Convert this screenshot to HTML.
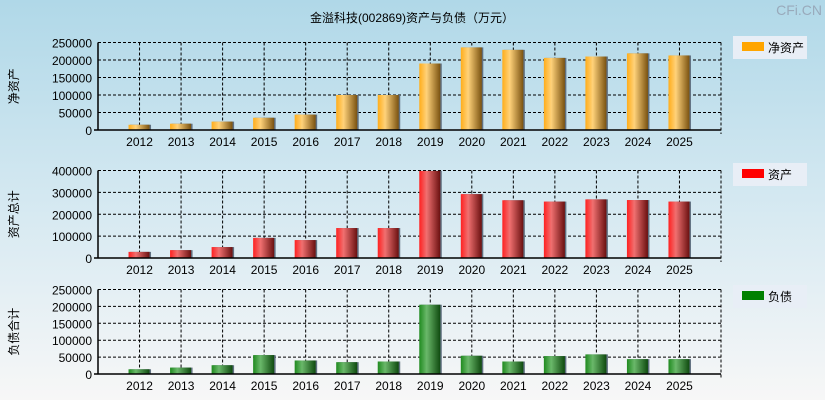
<!DOCTYPE html>
<html><head><meta charset="utf-8"><style>
body{margin:0;width:825px;height:400px;overflow:hidden;background:linear-gradient(#b0d8e8,#d8eaf2 55%,#f7f7f7);font-family:"Liberation Sans","Noto Sans CJK SC",sans-serif}
</style></head><body>
<svg id="c" width="825" height="400" style="position:absolute;left:0;top:0">
<defs>
<linearGradient id="g0" x1="0" x2="1"><stop offset="0" stop-color="#ffad1a"/><stop offset="0.35" stop-color="#ffd27a"/><stop offset="1" stop-color="#7a5210"/></linearGradient>
<linearGradient id="g1" x1="0" x2="1"><stop offset="0" stop-color="#ff2020"/><stop offset="0.35" stop-color="#f07070"/><stop offset="1" stop-color="#6a1010"/></linearGradient>
<linearGradient id="g2" x1="0" x2="1"><stop offset="0" stop-color="#1f8a1f"/><stop offset="0.35" stop-color="#6ab86a"/><stop offset="1" stop-color="#0f4a0f"/></linearGradient>
</defs>
<text x="412" y="22" font-size="12" text-anchor="middle">金溢科技(002869)资产与负债（万元）</text>
</svg>
<script>
const years=["2012","2013","2014","2015","2016","2017","2018","2019","2020","2021","2022","2023","2024","2025"];
const netAssets=[15000,18000,24000,35000,44000,100000,100000,190000,236000,229000,206000,210000,219000,213000];
const totalAssets=[28000,36000,50000,92000,82000,137000,137000,398000,292000,264000,258000,268000,265000,258000];
const liabilities=[14000,19000,26000,56000,40000,35000,37000,205000,54000,37000,53000,58000,44000,44000];
const ticks0=[0,50000,100000,150000,200000,250000];
const ticks1=[0,100000,200000,300000,400000];
const ticks2=[0,50000,100000,150000,200000,250000];
const svg=document.getElementById('c');
const NS='http://www.w3.org/2000/svg';
function mk(t,a){const e=document.createElementNS(NS,t);for(const k in a)e.setAttribute(k,a[k]);svg.appendChild(e);return e;}
const X0=98,X1=721;const slot=(X1-X0)/15;
function xc(i){return X0+slot*(i+1);}
const panels=[
 {vals:netAssets,ticks:ticks0,top:42.5,bot:130,grad:'g0',col:'#ffa500',name:'净资产',ylab:'净资产',key:'net-assets',ly:36},
 {vals:totalAssets,ticks:ticks1,top:170.5,bot:258,grad:'g1',col:'#ff0000',name:'资产',ylab:'资产总计',key:'total-assets',ly:163},
 {vals:liabilities,ticks:ticks2,top:289.5,bot:374,grad:'g2',col:'#008000',name:'负债',ylab:'负债合计',key:'liabilities',ly:285}];
panels.forEach(p=>{
 const max=p.ticks[p.ticks.length-1];
 const y=v=>p.bot-(v/max)*(p.bot-p.top);
 p.ticks.forEach(t=>{
  if(t>0){const l=mk('line',{x1:X0,x2:X1,y1:y(t),y2:y(t),stroke:'#000','stroke-dasharray':'3,2','stroke-width':1});
  
  }
  const tx=mk('text',{x:X0-6,y:y(t)+5,'font-size':12,'text-anchor':'end'});tx.textContent=t;
  
  
 });
 years.forEach((yr,i)=>{
  const gl=mk('line',{x1:xc(i),x2:xc(i),y1:p.top,y2:p.bot,stroke:'#000','stroke-dasharray':'3,2'});
  
  
 });
 mk('line',{x1:X1,x2:X1,y1:p.top,y2:p.bot+4,stroke:'#000','stroke-dasharray':'3,2'});
 mk('line',{x1:X0,x2:X1,y1:p.top,y2:p.top,stroke:'#000','stroke-dasharray':'3,2'});
 years.forEach((yr,i)=>{
  const v=p.vals[i];
  const sh=mk('rect',{x:xc(i)-11+1.5,y:y(v),width:21,height:p.bot-y(v),fill:'#607080'});
  
  
  const b=mk('rect',{x:xc(i)-11,y:y(v),width:21,height:p.bot-y(v),fill:'url(#'+p.grad+')'});
  
  
  const t=mk('text',{x:xc(i),y:p.bot+16,'font-size':12,'text-anchor':'middle'});t.textContent=yr;
  
  
 });
 mk('line',{x1:X0,x2:X0,y1:p.top,y2:p.bot,stroke:'#000','stroke-width':1.5});
 mk('line',{x1:X0-4,x2:X1,y1:p.bot,y2:p.bot,stroke:'#000','stroke-width':1.5});
 const yl=mk('text',{x:0,y:0,'font-size':12,'text-anchor':'middle',transform:'translate(18,'+((p.top+p.bot)/2)+') rotate(-90)'});yl.textContent=p.ylab;
 
 
 const lb=mk('rect',{x:733,y:p.ly,width:74,height:23,fill:'#e8eef6'});
 
 
 mk('rect',{x:742,y:p.ly+6,width:22,height:9,fill:p.col});
 const lt=mk('text',{x:768,y:p.ly+16,'font-size':12});lt.textContent=p.name;
 
 
});
const wm=mk('text',{x:822,y:15,'font-size':14,'text-anchor':'end',fill:'#9ab'});wm.textContent='CFi.CN';


</script>
</body></html>
